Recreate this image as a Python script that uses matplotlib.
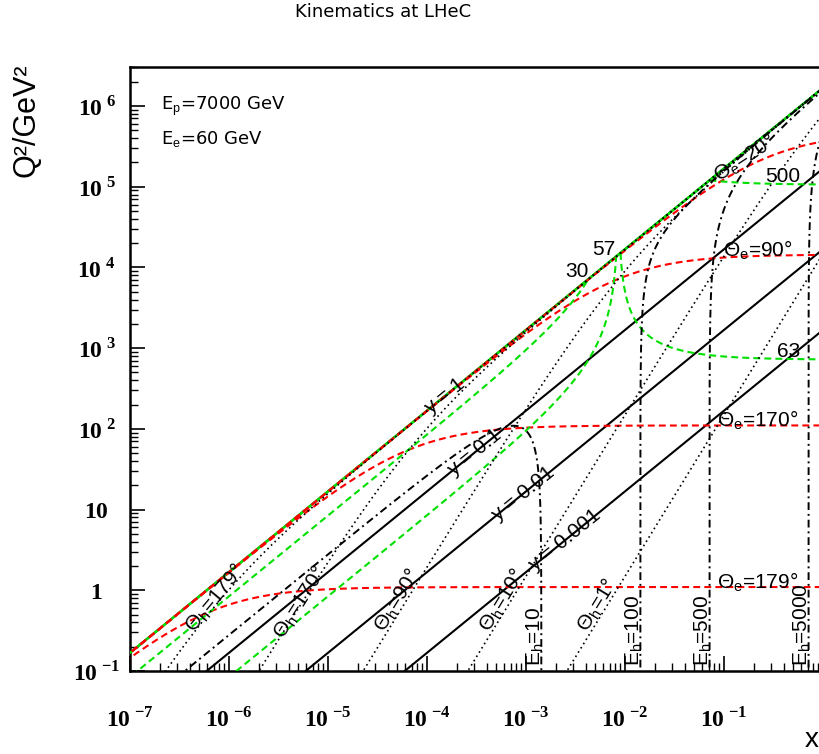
import numpy as np
import matplotlib
matplotlib.use('Agg')
import matplotlib.pyplot as plt

plt.rcParams['font.family'] = ['Liberation Sans', 'DejaVu Sans']
plt.rcParams['mathtext.fontset'] = 'custom'
plt.rcParams['mathtext.rm'] = 'Liberation Sans'
plt.rcParams['mathtext.it'] = 'Liberation Sans:italic'
plt.rcParams['mathtext.bf'] = 'Liberation Serif:bold'
plt.rcParams['mathtext.sf'] = 'Liberation Sans'

# ---------------- data ----------------
E_P = 7000.0          # proton beam energy (GeV)
E_E = 60.0            # electron beam energy (GeV)
S = 4 * E_E * E_P     # centre-of-mass energy squared

y_values = [1, 0.1, 0.01, 0.001]
y_labels = ['y = 1', 'y = 0.1', 'y = 0.01', 'y = 0.001']
y_label_logx = [-3.82, -3.52, -3.03, -2.61]

theta_e_deg = [179, 170, 90, 20]
theta_e_labels = [r'$\Theta_{\rm e}$=179°', r'$\Theta_{\rm e}$=170°',
                  r'$\Theta_{\rm e}$=90°', r'$\Theta_{\rm e}$=20°']
theta_e_label_pos = [(0.22, 1.27), (0.22, 129), (0.22, 1.65e4), (0.163, 2.28e5)]

theta_h_deg = [179, 170, 90, 10, 1]
theta_h_labels = [r'$\Theta_{\rm h}$=179°', r'$\Theta_{\rm h}$=170°',
                  r'$\Theta_{\rm h}$=90°', r'$\Theta_{\rm h}$=10°',
                  r'$\Theta_{\rm h}$=1°']
theta_h_label_pos = [(7.23e-7, 0.80), (5.21e-6, 0.70), (4.98e-5, 0.76),
                     (5.73e-4, 0.76), (5.21e-3, 0.66)]

E_h_values = [10, 100, 500, 5000]
E_h_labels = [r'E$_{\rm h}$=10', r'E$_{\rm h}$=100', r'E$_{\rm h}$=500',
              r'E$_{\rm h}$=5000']

E_e_prime = [30, 57, 63, 500]
E_e_prime_labels = ['30', '57', '63', '500']
E_e_prime_label_pos = [(3.27e-3, 8790), (6.14e-3, 1.65e4), (0.454, 897), (0.394, 1.32e5)]

x_tick_vals = [1e-7, 1e-6, 1e-5, 1e-4, 1e-3, 1e-2, 1e-1]
x_tick_labels = [r'$\mathbf{10}^{\ \mathbf{-7}}$', r'$\mathbf{10}^{\ \mathbf{-6}}$',
                 r'$\mathbf{10}^{\ \mathbf{-5}}$', r'$\mathbf{10}^{\ \mathbf{-4}}$',
                 r'$\mathbf{10}^{\ \mathbf{-3}}$', r'$\mathbf{10}^{\ \mathbf{-2}}$',
                 r'$\mathbf{10}^{\ \mathbf{-1}}$']
y_tick_vals = [1e-1, 1, 10, 1e2, 1e3, 1e4, 1e5, 1e6]
y_tick_labels = [r'$\mathbf{10}^{\ \mathbf{-1}}$', r'$\mathbf{1}$', r'$\mathbf{10}$',
                 r'$\mathbf{10}^{\ \mathbf{2}}$', r'$\mathbf{10}^{\ \mathbf{3}}$',
                 r'$\mathbf{10}^{\ \mathbf{4}}$', r'$\mathbf{10}^{\ \mathbf{5}}$',
                 r'$\mathbf{10}^{\ \mathbf{6}}$']

XMIN, XMAX = 1e-7, 1.0
YMIN, YMAX = 0.1, 10 ** 6.483

# ---------------- kinematics ----------------
def q2_theta_e(x, th):
    A = 4 * E_E ** 2 / np.tan(np.radians(th) / 2) ** 2
    return A / (1 + A / (S * x))

def q2_theta_h(x, th):
    T = np.tan(np.radians(th) / 2) ** 2
    B = T * S * x / (4 * E_E ** 2)
    return S * x * B / (1 + B)

def eh_curve(eh):
    x0 = eh / E_P
    if eh < E_E:
        x = np.concatenate([np.logspace(-7.5, np.log10(x0) - 0.05, 400),
                            x0 * (1 - np.logspace(np.log10(1 - 10 ** -0.05), -9, 400))])
        y = (eh - x * E_P) / (E_E - x * E_P)
    else:
        x = x0 * (1 + np.logspace(-9, np.log10(1.0 / x0 - 1), 800))
        y = (x * E_P - eh) / (x * E_P - E_E)
    return x, S * x * y

def eprime_curve(ep):
    xe = 4 * E_E * ep / S
    if ep < E_E:
        x = np.logspace(-7.5, np.log10(xe), 800)
    else:
        x = np.logspace(np.log10(xe), 0, 800)
    q2 = 4 * E_E * (ep - E_E) / (1 - 4 * E_E ** 2 / (S * x))
    return x, q2

# ---------------- figure ----------------
fig = plt.figure(figsize=(8.2, 7.54), dpi=100)
ax = fig.add_axes([130 / 820, 83 / 754, 693 / 820, 604 / 754])
ax.set_xscale('log')
ax.set_yscale('log')
ax.set_xlim(XMIN, XMAX)
ax.set_ylim(YMIN, YMAX)

x = np.logspace(-7.5, 0, 3000)

def angle_at(xa, q2func, dx=1.02):
    p1 = ax.transData.transform((xa / dx, q2func(xa / dx)))
    p2 = ax.transData.transform((xa * dx, q2func(xa * dx)))
    return np.degrees(np.arctan2(p2[1] - p1[1], p2[0] - p1[0]))

# y lines
for yv, lab, lx in zip(y_values, y_labels, y_label_logx):
    ax.plot(x, S * x * yv, color='black', lw=1.5, zorder=2)
    xl = 10 ** lx
    f = lambda xx, yv=yv: S * xx * yv
    ax.text(xl, f(xl), lab, fontsize=15, rotation=angle_at(xl, f),
            rotation_mode='anchor', ha='center', va='center', zorder=6)

# kinematic limit in green
ax.plot(x, S * x, color='#00e000', lw=1.8, zorder=3)

# electron angle lines (red dashed)
for th, lab, pos in zip(theta_e_deg, theta_e_labels, theta_e_label_pos):
    ax.plot(x, q2_theta_e(x, th), color='#ff0000', lw=1.5,
            linestyle=(0, (3.3, 2)), zorder=4)
    rot = 33 if th == 20 else 0
    ax.text(pos[0], pos[1], lab, fontsize=15, rotation=rot,
            rotation_mode='anchor', ha='center', va='center', zorder=6)

# scattered electron energy lines (green dashed)
for ep, lab, pos in zip(E_e_prime, E_e_prime_labels, E_e_prime_label_pos):
    xe, qe = eprime_curve(ep)
    ax.plot(xe, qe, color='#00e000', lw=1.5, linestyle=(0, (3.3, 2)), zorder=4)
    ax.text(pos[0], pos[1], lab, fontsize=15, ha='center', va='center', zorder=6)

# hadron angle lines (dotted)
for th, lab, pos in zip(theta_h_deg, theta_h_labels, theta_h_label_pos):
    ax.plot(x, q2_theta_h(x, th), color='black', lw=1.2,
            linestyle=(0, (1, 2)), zorder=5)
    f = lambda xx, th=th: q2_theta_h(xx, th)
    ax.text(pos[0], pos[1], lab, fontsize=15, rotation=angle_at(pos[0], f),
            rotation_mode='anchor', ha='center', va='center', zorder=6)

# hadron energy lines (dash-dot)
for eh, lab in zip(E_h_values, E_h_labels):
    xh, qh = eh_curve(eh)
    ax.plot(xh, qh, color='black', lw=1.4, linestyle=(0, (4, 2, 1, 2)), zorder=5)
    ax.text(0.86 * eh / E_P, 0.115, lab, fontsize=15, rotation=90,
            ha='center', va='bottom', zorder=6)

# axes styling
ax.set_xticks(x_tick_vals)
ax.set_xticklabels(x_tick_labels, fontsize=17)
ax.set_yticks(y_tick_vals)
ax.set_yticklabels(y_tick_labels, fontsize=17)
ax.tick_params(which='major', direction='in', length=11, width=1.2,
               top=False, right=False)
ax.tick_params(which='minor', direction='in', length=5.5, width=1.0,
               top=False, right=False)
ax.tick_params(axis='x', which='major', pad=26)
ax.tick_params(axis='y', which='major', pad=24)
for lab in ax.get_yticklabels():
    lab.set_ha('center')
ax.xaxis.set_minor_locator(matplotlib.ticker.LogLocator(base=10, subs=np.arange(2, 10), numticks=20))
ax.yaxis.set_minor_locator(matplotlib.ticker.LogLocator(base=10, subs=np.arange(2, 10), numticks=20))
ax.xaxis.set_minor_formatter(matplotlib.ticker.NullFormatter())
ax.yaxis.set_minor_formatter(matplotlib.ticker.NullFormatter())
for sp in ax.spines.values():
    sp.set_linewidth(1.8)

# beam energies
ax.text(0.045, 0.935, r'E$_{\rm p}$=7000 GeV', transform=ax.transAxes,
        fontsize=13, family='DejaVu Sans', ha='left', va='center')
ax.text(0.045, 0.88, r'E$_{\rm e}$=60 GeV', transform=ax.transAxes,
        fontsize=13, family='DejaVu Sans', ha='left', va='center')

# titles
fig.text(383 / 820, 1 - 12 / 754, 'Kinematics at LHeC', ha='center', va='center',
         fontsize=13, family='DejaVu Sans')
fig.text(27 / 820, 1 - 120 / 754, 'Q²/GeV²', rotation=90, ha='center', va='center',
         fontsize=22)
fig.text(812 / 820, 1 - 740 / 754, 'x', ha='center', va='center', fontsize=20)

fig.savefig('out.png', dpi=100)
